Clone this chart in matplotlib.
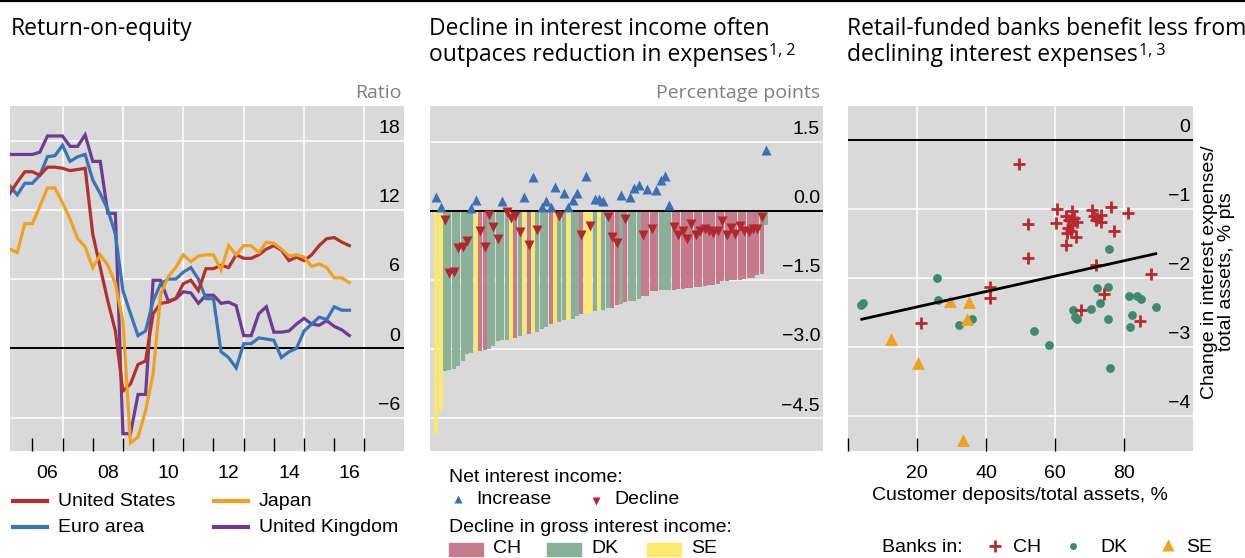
import numpy as np
import pandas as pd
import matplotlib
matplotlib.use("Agg")
import matplotlib.pyplot as plt
from matplotlib.lines import Line2D
from matplotlib.patches import Rectangle

plt.rcParams['font.family'] = ['Liberation Sans', 'DejaVu Sans']

# ---------------- Panel 1 data: return-on-equity (quarterly) ----------------
quarters = pd.period_range('2005Q2', periods=46, freq='Q')
roe_us = [13.4, 14.4, 15.3, 15.3, 15.0, 15.7, 15.7, 15.6, 15.4, 15.5, 15.6, 9.9,
          7.0, 4.1, 1.5, -3.7, -3.1, -1.4, -1.1, 3.0, 3.9, 4.0, 4.3, 5.6,
          5.9, 5.0, 6.9, 6.9, 7.2, 7.0, 8.1, 7.8, 7.8, 8.1, 8.6, 8.9,
          8.5, 7.6, 7.9, 7.6, 8.1, 8.9, 9.5, 9.6, 9.2, 8.9]
roe_euro = [14.1, 13.3, 14.3, 14.3, 15.0, 16.6, 16.7, 17.6, 16.2, 16.6, 16.8, 14.6,
            13.4, 12.0, 9.9, 5.0, 3.0, 1.1, 1.5, 4.1, 5.6, 6.0, 6.0, 6.6,
            7.0, 6.0, 4.3, 4.3, -0.3, -0.8, -1.7, 0.4, 0.4, 0.9, 0.8, 0.7,
            -0.8, -0.3, 0.0, 1.5, 2.1, 2.7, 2.5, 3.6, 3.3, 3.3]
roe_japan = [8.6, 8.3, 10.8, 10.8, 12.3, 13.9, 13.9, 12.6, 11.2, 9.5, 8.8, 7.0,
             8.1, 7.2, 5.6, 2.3, -8.2, -7.7, -5.4, -2.2, 4.7, 6.2, 7.0, 8.1,
             7.5, 8.0, 8.1, 8.1, 6.8, 8.9, 8.1, 8.9, 8.9, 8.3, 9.2, 9.1,
             8.6, 8.0, 8.1, 7.9, 7.1, 7.3, 7.0, 6.1, 6.1, 5.7]
roe_uk = [16.8, 16.8, 16.8, 16.8, 17.0, 18.4, 18.4, 18.4, 17.5, 17.5, 18.5, 16.2,
          16.2, 11.7, 11.7, -7.4, -7.4, -4.0, -4.0, 5.9, 5.9, 4.1, 4.3, 4.9,
          4.8, 3.9, 4.6, 4.6, 3.9, 4.0, 3.7, 1.1, 1.1, 3.0, 3.6, 1.4,
          1.4, 1.5, 2.1, 2.6, 2.1, 2.0, 2.4, 1.9, 1.6, 1.1]
roe_names = ['United States', 'Euro area', 'Japan', 'United Kingdom']
roe_colors = ['#b3302c', '#3b74b6', '#f0a11f', '#6c3b94']
p1_yticks = [18, 12, 6, 0, -6]
p1_year_ticks = list(range(2006, 2018))
p1_year_labels = ['06', '08', '10', '12', '14', '16']

# ---------------- Panel 2 data: banks, sorted by gross income decline ----------------
gross_decline = [-4.82, -4.35, -3.48, -3.46, -3.43, -3.37, -3.25, -3.10, -3.09, -3.07,
                 -3.05, -3.01, -2.99, -2.93, -2.83, -2.80, -2.80, -2.78, -2.75, -2.71,
                 -2.67, -2.67, -2.64, -2.62, -2.56, -2.53, -2.45, -2.43, -2.42, -2.38,
                 -2.36, -2.34, -2.28, -2.25, -2.25, -2.22, -2.18, -2.16, -2.15, -2.12,
                 -2.10, -2.04, -2.02, -1.97, -1.95, -1.95, -1.91, -1.86, -1.86, -1.75,
                 -1.75, -1.73, -1.73, -1.73, -1.71, -1.70, -1.70, -1.68, -1.68, -1.66,
                 -1.65, -1.64, -1.62, -1.61, -1.58, -1.53, -1.53, -1.51, -1.51, -1.51,
                 -1.48, -1.46, -1.45, -1.39, -1.37, -0.32]
bank_country = list("YYGGGGGGGYPPGGGGGYPGYPYGGGPYGGYGGPYYGYGGPPGPGGGPPPPGGGPPPPPPPPPPPPPPPPPPPPPG")
net_change = [0.30, 0.07, -0.20, -1.34, -1.32, -0.81, -0.79, -0.66, 0.06, 0.24,
              -0.43, -0.79, -0.09, -0.35, -0.61, 0.20, -0.03, -0.16, -0.12, -0.46,
              0.29, -0.74, 0.72, -0.41, 0.08, 0.22, 0.07, 0.51, -0.12, 0.38,
              0.07, 0.24, 0.38, -0.53, 0.76, -0.33, 0.25, 0.25, 0.20, -0.14,
              -0.58, -0.69, 0.33, -0.17, 0.29, 0.49, 0.55, -0.52, 0.46, -0.40,
              0.44, 0.66, 0.76, 0.13, -0.35, -0.52, -0.43, -0.61, -0.28, -0.52,
              -0.45, -0.40, -0.43, -0.48, -0.45, -0.23, -0.52, -0.38, -0.50, -0.33,
              -0.43, -0.47, -0.40, -0.40, -0.14, 1.31]
country_color = {'P': '#c47c8c', 'G': '#8bb09a', 'Y': '#ffe86e'}
p2_yticks = [1.5, 0.0, -1.5, -3.0, -4.5]

# ---------------- Panel 3 data: deposits vs change in interest expenses ----------------
ch_x = [49.6, 60.7, 65.0, 70.8, 76.1, 81.3, 52.3, 60.3, 63.2, 64.2, 65.6, 66.5, 65.0,
        63.8, 64.5, 63.5, 66.2, 63.2, 71.3, 72.3, 73.3, 73.3, 71.8, 77.1, 52.1, 71.8,
        87.9, 41.3, 41.3, 74.1, 67.5, 84.6, 21.3]
ch_y = [-0.35, -1.00, -1.03, -1.02, -0.98, -1.06, -1.22, -1.20, -1.11, -1.16, -1.14,
        -1.19, -1.23, -1.28, -1.32, -1.35, -1.41, -1.52, -1.11, -1.14, -1.09, -1.19,
        -1.16, -1.32, -1.72, -1.82, -1.94, -2.14, -2.29, -2.24, -2.47, -2.62, -2.65]
dk_x = [3.9, 4.4, 25.8, 26.1, 32.1, 36.0, 53.8, 58.3, 65.1, 65.9, 66.4, 70.4, 72.3,
        73.0, 75.5, 75.5, 75.7, 75.9, 81.5, 83.9, 84.9, 82.4, 81.7, 89.2]
dk_y = [-2.39, -2.37, -2.00, -2.32, -2.69, -2.60, -2.77, -2.97, -2.47, -2.57, -2.60,
        -2.45, -2.15, -2.36, -2.13, -2.60, -1.58, -3.31, -2.26, -2.26, -2.30, -2.54,
        -2.72, -2.43]
se_x = [12.6, 20.3, 29.7, 35.2, 34.5, 33.3]
se_y = [-2.88, -3.24, -2.34, -2.35, -2.60, -4.35]
fit_range = [4.0, 89.2]
fit_intercept = -2.645
fit_slope = 0.01115
p3_yticks = [0, -1, -2, -3, -4]
p3_xticks = [0, 20, 40, 60, 80]

# ---------------- Figure ----------------
W, H = 1245, 558
fig = plt.figure(figsize=(W / 100, H / 100), dpi=100)
renderer = fig.canvas.get_renderer()

def fx(x):
    return x / W

def fy(y):
    return 1 - y / H

BG = '#d9d9d9'
TITLE_FONT = 'Open Sans'
TITLE_SIZE = 16.5
TS = 14
GREY = '#7f7f7f'

fig.add_artist(Line2D([0, 1], [fy(0.8), fy(0.8)], color='black', lw=1.6,
                      transform=fig.transFigure))

def make_ax(left, right):
    ax = fig.add_axes([fx(left), fy(451), fx(right - left), (451 - 106) / H])
    ax.set_facecolor(BG)
    for s in ax.spines.values():
        s.set_visible(False)
    ax.tick_params(axis='y', left=False, labelleft=False)
    return ax

def ylabels(ax, ticks, fmt, rpad=3):
    for t in ticks:
        ax.annotate(fmt(t), xy=(1, t), xycoords=('axes fraction', 'data'),
                    xytext=(-rpad * 0.72, 8.8), textcoords='offset points',
                    ha='right', va='center', fontsize=TS, color='black')

def minus(s):
    return s.replace('-', '\u2212')

def title(x, lines, sup=None):
    base = [35, 61]
    t = None
    for ln, b in zip(lines, base):
        t = fig.text(fx(x), fy(b), ln, ha='left', va='baseline',
                     fontsize=TITLE_SIZE, family=TITLE_FONT)
    if sup:
        bb = t.get_window_extent(renderer)
        fig.text(bb.x1 / W + fx(1), fy(base[len(lines) - 1] - 6.5), sup, ha='left',
                 va='baseline', fontsize=11.5, family=TITLE_FONT)

# ---- Panel 1 ----
ax1 = make_ax(10, 404)
years = np.array([q.year + (q.quarter - 1) / 4 for q in quarters])
ax1.set_xlim(2005.26, 2018.31)
ax1.set_ylim(-8.9, 21.0)
for v in p1_yticks:
    if v == 0:
        ax1.axhline(0, color='black', lw=1.4, zorder=2)
    else:
        ax1.axhline(v, color='white', lw=1.1, zorder=1)
for yr in p1_year_ticks[1::2]:
    ax1.axvline(yr, color='white', lw=1.1, zorder=1)
order = [3, 1, 0, 2]
series_all = [roe_us, roe_euro, roe_japan, roe_uk]
for k in order:
    ax1.plot(years, series_all[k], color=roe_colors[k], lw=2.3, zorder=3,
             solid_joinstyle='miter')
ax1.set_xticks(p1_year_ticks)
ax1.set_xticklabels([])
ax1.tick_params(axis='x', which='major', direction='in', length=9.5, width=1.0,
                color='black')
ax1.set_xticks([int('20' + s) + 0.5 for s in p1_year_labels], minor=True)
ax1.set_xticklabels(p1_year_labels, minor=True)
ax1.tick_params(axis='x', which='minor', length=0, pad=10, labelsize=TS)
ylabels(ax1, p1_yticks, lambda t: minus(f'{t:d}'), rpad=4)
fig.text(fx(401.5), fy(93), 'Ratio', ha='right', va='center', fontsize=TS,
         color=GREY, family=TITLE_FONT)
title(11, ['Return-on-equity'])

# legend panel 1
leg_items = [(0, 13, 501), (1, 13, 527), (2, 214, 501), (3, 214, 527)]
for k, x0, y0 in leg_items:
    fig.add_artist(Line2D([fx(x0), fx(x0 + 34)], [fy(y0), fy(y0)], color=roe_colors[k],
                          lw=3, transform=fig.transFigure))
    fig.text(fx(x0 + 45), fy(y0), roe_names[k], ha='left', va='center', fontsize=TS)

# ---- Panel 2 ----
ax2 = make_ax(430, 823)
idx = np.arange(len(gross_decline))
ax2.set_xlim(-1.41, 87.9)
ax2.set_ylim(-5.21, 2.27)
for v in p2_yticks:
    if v == 0:
        continue
    ax2.axhline(v, color='white', lw=1.1, zorder=1)
ax2.bar(idx, gross_decline, width=0.93, color=[country_color[c] for c in bank_country],
        linewidth=0, zorder=2)
ax2.axhline(0, color='black', lw=1.4, zorder=3)
net = np.array(net_change)
up = net >= 0
ax2.plot(idx[up], net[up], linestyle='none', marker='^', ms=7.5, color='#3b6fb6',
         mec='none', zorder=4)
ax2.plot(idx[~up], net[~up], linestyle='none', marker='v', ms=7.5, color='#b0282d',
         mec='none', zorder=4)
ax2.set_xticks([])
ylabels(ax2, p2_yticks, lambda t: minus(f'{t:.1f}'), rpad=3)
fig.text(fx(820), fy(93), 'Percentage points', ha='right', va='center', fontsize=TS,
         color=GREY, family=TITLE_FONT)
title(429, ['Decline in interest income often', 'outpaces reduction in expenses'],
      sup='1, 2')

# legend panel 2
fig.text(fx(449), fy(477), 'Net interest income:', ha='left', va='center', fontsize=TS)
fig.add_artist(Line2D([fx(458)], [fy(499)], marker='^', ms=6, color='#3b6fb6',
                      mec='none', transform=fig.transFigure))
fig.text(fx(476), fy(500), 'Increase', ha='left', va='center', fontsize=TS)
fig.add_artist(Line2D([fx(596)], [fy(501)], marker='v', ms=6, color='#b0282d',
                      mec='none', transform=fig.transFigure))
fig.text(fx(614), fy(500), 'Decline', ha='left', va='center', fontsize=TS)
fig.text(fx(449), fy(527), 'Decline in gross interest income:', ha='left', va='center',
         fontsize=TS)
for (code, label, x0) in [('P', 'CH', 449), ('G', 'DK', 547), ('Y', 'SE', 647)]:
    fig.add_artist(Rectangle((fx(x0), fy(556)), fx(34), 13 / H, color=country_color[code],
                             transform=fig.transFigure))
    fig.text(fx(x0 + 44), fy(548.5), label, ha='left', va='center', fontsize=TS)

# ---- Panel 3 ----
ax3 = make_ax(848, 1193)
ax3.set_xlim(0, 100)
ax3.set_ylim(-4.51, 0.49)
for v in p3_yticks:
    if v == 0:
        ax3.axhline(0, color='black', lw=1.4, zorder=2)
    else:
        ax3.axhline(v, color='white', lw=1.1, zorder=1)
for v in p3_xticks[1:]:
    ax3.axvline(v, color='white', lw=1.1, zorder=1)
ax3.scatter(dk_x, dk_y, s=40, color='#3e8a6c', marker='o', linewidths=0, zorder=3)
ax3.scatter(se_x, se_y, s=85, color='#f0a11f', marker='^', linewidths=0, zorder=3)
ax3.scatter(ch_x, ch_y, s=75, color='#b8292f', marker='+', linewidths=2, zorder=4)
fx_line = np.array(fit_range)
ax3.plot(fx_line, fit_intercept + fit_slope * fx_line, color='black', lw=2, zorder=5)
ax3.set_xticks(p3_xticks)
ax3.set_xticklabels([''] + [str(v) for v in p3_xticks[1:]])
ax3.tick_params(axis='x', direction='in', length=9.5, width=1.0, color='black',
                pad=10, labelsize=TS)
ylabels(ax3, p3_yticks, lambda t: minus(f'{t:d}'), rpad=3)
fig.text(fx(1020), fy(495), 'Customer deposits/total assets, %', ha='center',
         va='center', fontsize=TS)
fig.text(fx(1218), fy(272), 'Change in interest expenses/\ntotal assets, % pts',
         ha='center', va='center', rotation=90, fontsize=TS, linespacing=1.05)
title(847, ['Retail-funded banks benefit less from', 'declining interest expenses'],
      sup='1, 3')

# legend panel 3
fig.text(fx(882), fy(547), 'Banks in:', ha='left', va='center', fontsize=TS)
fig.add_artist(Line2D([fx(995)], [fy(546)], marker='+', ms=8, mew=2, color='#b8292f',
                      transform=fig.transFigure))
fig.text(fx(1013), fy(547), 'CH', ha='left', va='center', fontsize=TS)
fig.add_artist(Line2D([fx(1073)], [fy(546)], marker='o', ms=5, color='#3e8a6c',
                      mec='none', transform=fig.transFigure))
fig.text(fx(1100), fy(547), 'DK', ha='left', va='center', fontsize=TS)
fig.add_artist(Line2D([fx(1168)], [fy(545)], marker='^', ms=8, color='#f0a11f',
                      mec='none', transform=fig.transFigure))
fig.text(fx(1186), fy(547), 'SE', ha='left', va='center', fontsize=TS)

fig.savefig('out.png', dpi=100)
